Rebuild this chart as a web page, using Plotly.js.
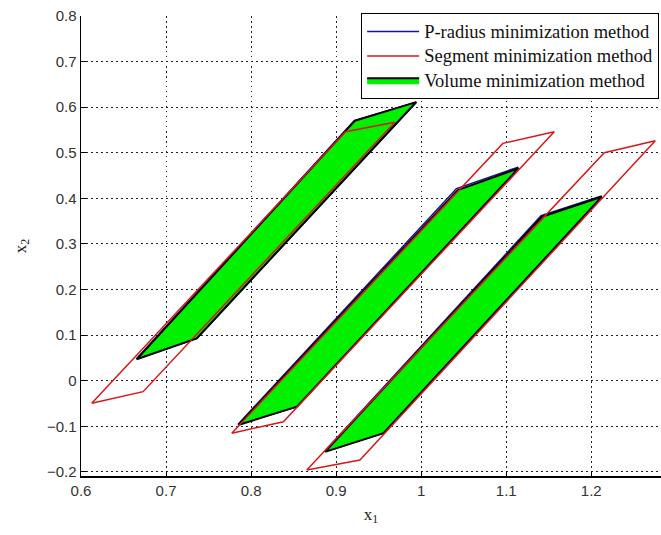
<!DOCTYPE html>
<html>
<head>
<meta charset="utf-8">
<script src="https://cdn.plot.ly/plotly-3.0.1.min.js"></script>
<style>html,body{margin:0;padding:0;background:#fff;}#chart{width:661px;height:535px;}</style>
</head>
<body>
<div id="chart"></div>
<script>
// Three polygons per method, separated by null (each closed)
var pradX = [0.6650, 0.7365, 0.9945, 0.9215, 0.6650, null,
             0.7845, 0.8540, 1.1140, 1.0415, 0.7845, null,
             0.8865, 0.9560, 1.2120, 1.1410, 0.8865];
var pradY = [0.0475, 0.0930, 0.6110, 0.5710, 0.0475, null,
             -0.0960, -0.0570, 0.4685, 0.4215, -0.0960, null,
             -0.1550, -0.1150, 0.4050, 0.3620, -0.1550];

var segX = [0.6126, 0.6730, 0.9690, 0.9110, 0.6126, null,
            0.7773, 0.8380, 1.1565, 1.0960, 0.7773, null,
            0.8655, 0.9280, 1.2753, 1.2153, 0.8655];
var segY = [-0.0496, -0.0240, 0.5670, 0.5460, -0.0496, null,
            -0.1150, -0.0900, 0.5460, 0.5206, -0.1150, null,
            -0.1960, -0.1740, 0.5263, 0.5000, -0.1960];

var volX = [0.6655, 0.7360, 0.9940, 0.9220, 0.6655, null,
            0.7850, 0.8540, 1.1145, 1.0430, 0.7850, null,
            0.8870, 0.9557, 1.2125, 1.1420, 0.8870];
var volY = [0.0470, 0.0930, 0.6110, 0.5700, 0.0470, null,
            -0.0970, -0.0570, 0.4660, 0.4180, -0.0970, null,
            -0.1560, -0.1150, 0.4035, 0.3597, -0.1560];

var legendNames = ['P-radius minimization method', 'Segment minimization method', 'Volume minimization method'];
var xTicks = [0.6, 0.7, 0.8, 0.9, 1, 1.1, 1.2];
var yTicks = [-0.2, -0.1, 0, 0.1, 0.2, 0.3, 0.4, 0.5, 0.6, 0.7, 0.8];

function big(s) { return '<span style="font-size:18.5px">' + s + '</span>'; }

var traces = [
  {x: pradX, y: pradY, type: 'scatter', mode: 'lines', name: big(legendNames[0]),
   line: {color: 'rgb(20,20,150)', width: 1.5}, legendrank: 1},
  {x: volX, y: volY, type: 'scatter', mode: 'lines', name: big(legendNames[2]),
   fill: 'toself', fillcolor: 'rgb(0,240,0)',
   line: {color: '#000000', width: 2}, legendrank: 3},
  {x: segX, y: segY, type: 'scatter', mode: 'lines', name: big(legendNames[1]),
   line: {color: 'rgb(215,25,25)', width: 1.5}, legendrank: 2}
];

var axisFont = {family: 'Liberation Sans, Arial, sans-serif', size: 15, color: '#333'};
var gridDash = '1.5px,3.5px';
var layout = {
  width: 661, height: 535,
  margin: {l: 81, r: 0, t: 16, b: 59},
  paper_bgcolor: '#fff', plot_bgcolor: '#fff',
  showlegend: true,
  legend: {
    x: 0.483, y: 1.006, xanchor: 'left', yanchor: 'top',
    bgcolor: '#fff', bordercolor: '#000', borderwidth: 1,
    font: {family: 'Liberation Serif, Times New Roman, serif', size: 16.5, color: '#111'},
    traceorder: 'normal', itemwidth: 52
  },
  xaxis: {
    range: [0.6, 1.282], tickvals: xTicks, ticks: 'inside', ticklen: 5, tickcolor: '#000',
    showline: true, linecolor: '#000', linewidth: 1.5, mirror: false,
    showgrid: true, gridcolor: '#222', griddash: gridDash, gridwidth: 1,
    zeroline: false, tickfont: axisFont,
    title: {text: 'x<sub>1</sub>', font: {family: 'Liberation Serif, Times New Roman, serif', size: 17, color: '#222'}, standoff: 10}
  },
  yaxis: {
    range: [-0.209, 0.8], tickvals: yTicks, ticks: 'inside', ticklen: 5, tickcolor: '#000',
    showline: true, linecolor: '#000', linewidth: 1.5, mirror: false,
    showgrid: true, gridcolor: '#222', griddash: gridDash, gridwidth: 1,
    zeroline: false, tickfont: axisFont,
    title: {text: 'x<sub>2</sub>', font: {family: 'Liberation Serif, Times New Roman, serif', size: 17, color: '#222'}, standoff: 16}
  }
};

Plotly.newPlot('chart', traces, layout, {displayModeBar: false, staticPlot: true});
</script>
</body>
</html>
